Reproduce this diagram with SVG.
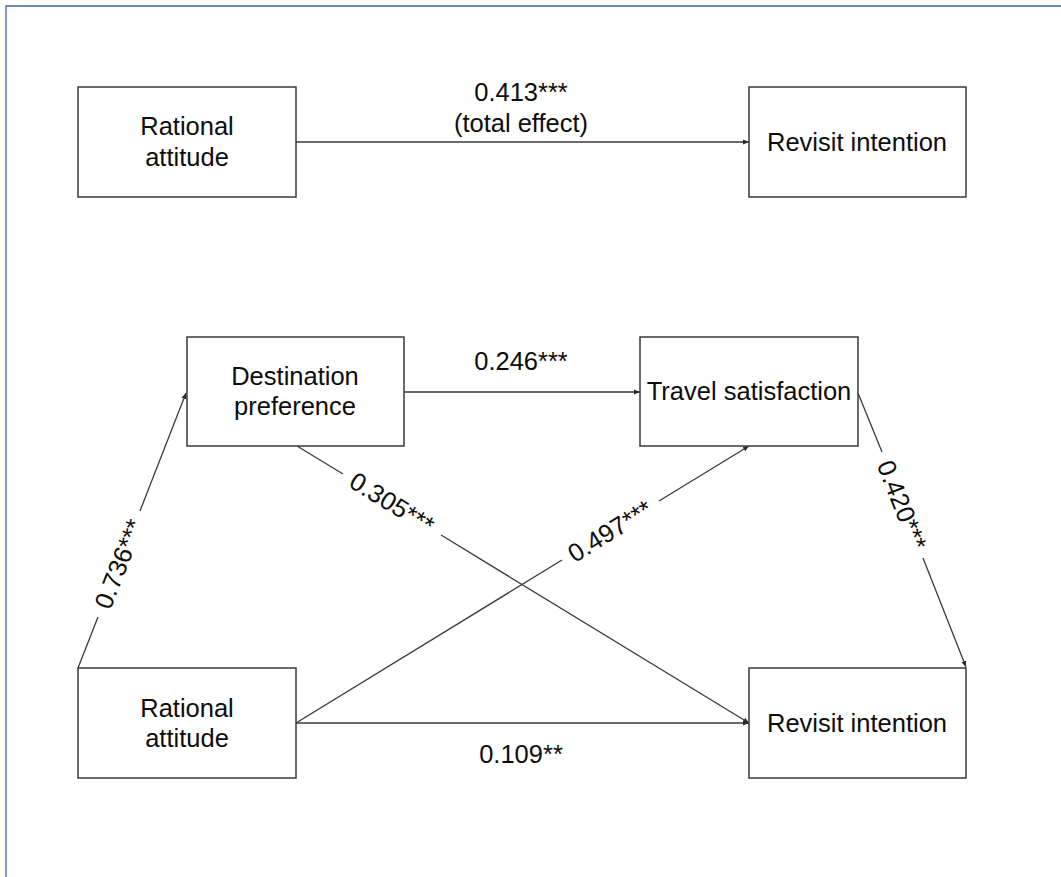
<svg xmlns="http://www.w3.org/2000/svg" width="1061" height="877" viewBox="0 0 1061 877">
  <style>
    .box { fill: #ffffff; stroke: #3a3a3a; stroke-width: 1.5; }
    .lbl { font-family: "Liberation Sans", Arial, sans-serif; font-size: 25.5px; fill: #0d0d0d; text-anchor: middle; }
    .edge { stroke: #3a3a3a; stroke-width: 1.3; fill: none; }
    .frame { stroke: #3f62a6; stroke-width: 1.3; fill: none; }
  </style>
  <defs>
    <marker id="arrow" markerUnits="userSpaceOnUse" markerWidth="7" markerHeight="6" refX="6" refY="3" orient="auto">
      <path d="M0,0.5 L6,3 L0,5.5 z" fill="#2a2a2a"/>
    </marker>
  </defs>

  <rect width="1061" height="877" fill="#ffffff"/>
  <!-- page frame (left and top edges) -->
  <path class="frame" d="M6,877 L6,6 L1061,6"/>

  <!-- connectors -->
  <g id="connectors">
    <!-- total effect path -->
    <line class="edge" x1="296" y1="142" x2="749" y2="142" marker-end="url(#arrow)"/>
    <!-- destination preference -> travel satisfaction -->
    <line class="edge" x1="404" y1="392" x2="640" y2="392" marker-end="url(#arrow)"/>
    <!-- rational attitude -> destination preference -->
    <line class="edge" x1="78" y1="668" x2="98" y2="617"/>
    <line class="edge" x1="140" y1="511" x2="186" y2="393" marker-end="url(#arrow)"/>
    <!-- travel satisfaction -> revisit intention -->
    <line class="edge" x1="858" y1="393" x2="882" y2="452"/>
    <line class="edge" x1="923" y1="558" x2="966" y2="667" marker-end="url(#arrow)"/>
    <!-- destination preference -> revisit intention -->
    <line class="edge" x1="297" y1="446" x2="343" y2="474"/>
    <line class="edge" x1="441" y1="535" x2="749" y2="723" marker-end="url(#arrow)"/>
    <!-- rational attitude -> travel satisfaction -->
    <line class="edge" x1="296" y1="723" x2="562" y2="560"/>
    <line class="edge" x1="659" y1="501" x2="749" y2="446" marker-end="url(#arrow)"/>
    <!-- direct effect -->
    <line class="edge" x1="296" y1="723" x2="749" y2="723" marker-end="url(#arrow)"/>

    <!-- path coefficients -->
    <text class="lbl" x="521" y="101">0.413***</text>
    <text class="lbl" x="521" y="132">(total effect)</text>
    <text class="lbl" x="521" y="370">0.246***</text>
    <text class="lbl" x="521" y="763">0.109**</text>
    <text class="lbl" transform="translate(119,564) rotate(-68.5)" dy="0.35em">0.736***</text>
    <text class="lbl" transform="translate(902,505) rotate(68.5)" dy="0.35em">0.420***</text>
    <text class="lbl" transform="translate(392,503) rotate(31.6)" dy="0.35em">0.305***</text>
    <text class="lbl" transform="translate(610,531) rotate(-31.6)" dy="0.35em">0.497***</text>
  </g>

  <!-- total-effect model -->
  <g id="rational-attitude-total">
    <rect class="box" x="78" y="87" width="218" height="110"/>
    <text class="lbl" x="187" y="135">Rational</text>
    <text class="lbl" x="187" y="166">attitude</text>
  </g>
  <g id="revisit-intention-total">
    <rect class="box" x="749" y="87" width="217" height="110"/>
    <text class="lbl" x="857" y="151">Revisit intention</text>
  </g>

  <!-- mediation model -->
  <g id="destination-preference">
    <rect class="box" x="187" y="337" width="217" height="109"/>
    <text class="lbl" x="295" y="385">Destination</text>
    <text class="lbl" x="295" y="415">preference</text>
  </g>
  <g id="travel-satisfaction">
    <rect class="box" x="640" y="337" width="218" height="109"/>
    <text class="lbl" x="749" y="400">Travel satisfaction</text>
  </g>
  <g id="rational-attitude">
    <rect class="box" x="78" y="668" width="218" height="110"/>
    <text class="lbl" x="187" y="717">Rational</text>
    <text class="lbl" x="187" y="747">attitude</text>
  </g>
  <g id="revisit-intention">
    <rect class="box" x="749" y="668" width="217" height="110"/>
    <text class="lbl" x="857" y="732">Revisit intention</text>
  </g>
</svg>
